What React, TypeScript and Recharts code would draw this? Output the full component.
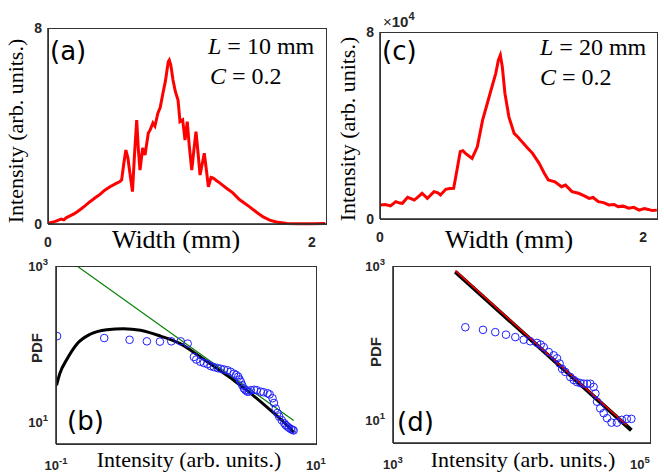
import React from 'react'
import { ComposedChart, Line, Scatter, XAxis, YAxis } from 'recharts'

// (a) L = 10 mm, C = 0.2 : intensity profile across the width
const widthA = [
  0.0, 0.04, 0.08, 0.1, 0.12, 0.14, 0.167, 0.2, 0.24, 0.28, 0.318, 0.36, 0.394, 0.43, 0.47, 0.51, 0.545,
  0.558, 0.575, 0.59, 0.605, 0.625, 0.64, 0.655, 0.672, 0.685, 0.697, 0.717, 0.735, 0.76, 0.775, 0.795,
  0.81, 0.833, 0.85, 0.871, 0.89, 0.911, 0.919, 0.93, 0.947, 0.965, 0.985, 1.0, 1.02, 1.038, 1.055, 1.07,
  1.089, 1.105, 1.121, 1.135, 1.152, 1.17, 1.184, 1.2, 1.215, 1.235, 1.252, 1.3, 1.35, 1.4, 1.45, 1.53,
  1.58, 1.63, 1.68, 1.73, 1.81, 1.9, 2.0, 2.1,
]
const intensityA = [
  0.03, 0.08, 0.16, 0.2, 0.17, 0.26, 0.33, 0.42, 0.57, 0.74, 0.91, 1.08, 1.21, 1.38, 1.52, 1.64, 1.73,
  1.8, 2.5, 3.02, 2.7, 1.9, 1.32, 2.8, 4.24, 3.0, 2.2, 3.1, 2.82, 3.71, 3.85, 4.12,
  4.0, 4.53, 4.75, 5.35, 5.85, 6.62, 6.69, 6.5, 5.88, 5.4, 5.06, 4.18, 4.25, 3.43, 4.18, 3.2,
  2.2, 3.0, 3.77, 3.0, 2.0, 2.5, 2.89, 2.2, 1.52, 1.9, 1.87, 1.68, 1.47, 1.27, 1.0, 0.69,
  0.48, 0.29, 0.16, 0.08, 0.02, 0.01, 0.01, 0.02,
]

// (c) L = 20 mm, C = 0.2 : intensity in units of 10^4
const widthC = [
  0.0, 0.04, 0.08, 0.12, 0.15, 0.17, 0.21, 0.24, 0.26, 0.29, 0.32, 0.36, 0.41, 0.44, 0.46, 0.5, 0.53,
  0.56, 0.585, 0.61, 0.63, 0.65, 0.7, 0.74, 0.78, 0.83, 0.88, 0.9, 0.915, 0.93, 0.95, 0.98, 1.02, 1.05,
  1.08, 1.12, 1.16, 1.21, 1.25, 1.28, 1.33, 1.38, 1.41, 1.46, 1.51, 1.55, 1.59, 1.62, 1.66, 1.7, 1.74,
  1.78, 1.81, 1.85, 1.89, 1.93, 1.97, 2.01, 2.04, 2.07, 2.105,
]
const intensityC = [
  0.6, 0.62, 0.56, 0.74, 0.68, 0.67, 0.93, 0.86, 0.81, 0.95, 1.1, 0.88, 1.17, 1.12, 1.03, 1.27, 1.3,
  1.31, 2.09, 2.88, 2.92, 2.81, 2.59, 3.09, 4.23, 5.23, 6.23, 6.79, 7.01, 6.51, 5.37, 4.37, 3.66, 3.5,
  3.3, 3.05, 2.81, 2.38, 1.95, 1.67, 1.59, 1.38, 1.45, 1.17, 1.1, 1.0, 0.88, 0.92, 0.74, 0.7, 0.6,
  0.62, 0.53, 0.55, 0.46, 0.5, 0.38, 0.45, 0.41, 0.36, 0.38,
]

// (b) PDF of intensity, L = 10 mm
const pdfXB = [
  0.102, 0.235, 0.368, 0.5, 0.63, 0.77, 0.91, 1.03, 1.15, 1.2, 1.29, 1.37, 1.46, 1.55, 1.64, 1.75, 1.85,
  1.96, 2.08, 2.2, 2.34, 2.43, 2.52, 2.58, 2.64, 2.71, 2.79, 2.87, 2.96, 3.05, 3.15, 3.34, 3.5, 3.76,
  3.95, 4.24, 4.4, 4.63, 4.75, 4.9, 5.05, 5.21, 5.45, 5.7, 5.85, 6.03, 6.2, 6.41, 6.6, 6.73,
]
const pdfYB = [
  126, 119, 113, 108, 107, 108, 108, 101, 68, 63, 59, 57, 55, 52, 50.4, 49, 48,
  47, 46, 44, 41.5, 40, 38, 35, 32.6, 29.5, 26.8, 25.5, 24.4, 24.5, 25.5, 25.8, 25.5, 24.4,
  24, 23.3, 22.5, 20.1, 17.5, 14.8, 13, 11.7, 10.5, 9.6, 9.1, 8.7, 8.4, 8.07, 7.9, 7.76,
]
const fitXB = [0.101, 0.107, 0.121, 0.145, 0.183, 0.246, 0.331, 0.446, 0.636, 0.908, 1.29, 1.74, 2.34, 3.16, 4.24, 5.69, 6.76]
const fitYB = [29.5, 41.7, 63, 100, 133, 152, 157, 150, 126, 100, 68, 48, 34, 23, 15.2, 9.8, 7.3]
const powerXB = [0.145, 6.73]
const powerYB = [1000, 10.4]

// (d) PDF of intensity, L = 20 mm
const pdfXD = [
  3656, 5016, 6250, 7570, 8950, 10400, 11700, 13200, 14100, 14900, 16300, 17800, 18900, 19800, 20700,
  21900, 24000, 25500, 27000, 28700, 30500, 32400, 34300, 36400, 37600, 38700, 41000, 43600, 46300,
  50200, 55300, 60400, 66000, 71600,
]
const pdfYD = [
  160, 148, 138, 128, 119, 110, 105, 100, 95, 88, 76, 69, 63, 54, 46,
  42, 36, 33, 31, 30, 29.5, 29.5, 29.5, 26.8, 22, 17.2, 14.1, 12.2, 10.5,
  9.2, 9.2, 10, 10.3, 10.3,
]
const fitXD = [3055, 71600]
const fitYD = [843, 7.3]
const powerXD = [3055, 66000]
const powerYD = [870, 8.5]

// labelled ticks
const profileTicksX = [0, 2]
const profileTicksY = [0, 8]
const pdfTicksY = [10, 1000]
const pdfTicksXB = [0.1, 10]
const pdfTicksXD = [1000, 100000]

const zip = (xs: number[], ys: number[]) => xs.map((x, i) => ({ x, y: ys[i] }))

const SERIF = '"Liberation Serif", "Times New Roman", serif'
const SANS = '"DejaVu Sans", Verdana, sans-serif'
const TICKF = '"Liberation Sans", Arial, sans-serif'
const INK = '#262626'

// plain bold tick label ("0", "2", "8")
const plainTick = (dx: number, dy: number, anchor: string) => (props: any) => {
  const { x, y, payload } = props
  return (
    <text x={x + dx} y={y + dy} textAnchor={anchor} fontFamily={TICKF} fontWeight="bold" fontSize={14} fill={INK}>
      {payload.value}
    </text>
  )
}

// 10^n tick label
const powTick = (dx: number, dy: number, anchor: string) => (props: any) => {
  const { x, y, payload } = props
  const exp = Math.round(Math.log10(payload.value))
  return (
    <text x={x + dx} y={y + dy} textAnchor={anchor} fontFamily={TICKF} fontWeight="bold" fontSize={13} fill={INK}>
      10
      <tspan dy={-6} fontSize={9.5}>{exp}</tspan>
    </text>
  )
}

const openCircle = (props: any) => (
  <circle cx={props.cx} cy={props.cy} r={3.8} fill="none" stroke="#1f1fff" strokeWidth={1} />
)

const PROFILE_X = [0, 2.106]
const PROFILE_Y = [0, 8]

function Profile({ data, margin }: { data: { x: number; y: number }[]; margin: any }) {
  return (
    <ComposedChart width={332} height={250} margin={margin}>
      <XAxis
        dataKey="x"
        type="number"
        domain={PROFILE_X}
        ticks={profileTicksX}
        allowDataOverflow
        axisLine={{ stroke: INK, strokeWidth: 1.5 }}
        tickLine={false}
        tickSize={0}
        height={26}
        tick={plainTick(0, 21, 'middle')}
      />
      <YAxis
        dataKey="y"
        type="number"
        domain={PROFILE_Y}
        ticks={profileTicksY}
        axisLine={{ stroke: INK, strokeWidth: 1.5 }}
        tickLine={false}
        tickSize={0}
        width={40}
        tick={plainTick(-4, 5, 'end')}
      />
      <Line data={data} dataKey="y" type="linear" stroke="#ff0000" strokeWidth={3} dot={false} isAnimationActive={false} />
    </ComposedChart>
  )
}

function Pdf({ points, fit, power, domainX, domainY, margin, yWidth, fitWidth, powerColor, powerWidth }: any) {
  return (
    <ComposedChart width={332} height={224} margin={margin}>
      <XAxis
        dataKey="x"
        type="number"
        scale="log"
        domain={domainX}
        ticks={domainX}
        allowDataOverflow
        axisLine={{ stroke: INK, strokeWidth: 1.5 }}
        tickLine={false}
        tickSize={0}
        height={26}
        tick={powTick(0, 24, 'middle')}
      />
      <YAxis
        dataKey="y"
        type="number"
        scale="log"
        domain={domainY}
        ticks={pdfTicksY}
        allowDataOverflow
        axisLine={{ stroke: INK, strokeWidth: 1.5 }}
        tickLine={false}
        tickSize={0}
        width={yWidth}
        tick={powTick(-6, 5, 'end')}
      />
      <Scatter data={points} dataKey="y" shape={openCircle} isAnimationActive={false} />
      <Line data={fit} dataKey="y" type="monotone" stroke="#000000" strokeWidth={fitWidth} dot={false} isAnimationActive={false} />
      <Line data={power} dataKey="y" type="linear" stroke={powerColor} strokeWidth={powerWidth} dot={false} isAnimationActive={false} />
    </ComposedChart>
  )
}

// plot boxes of the four panels: [left, top, right, bottom] in page pixels
const frames = [
  [48, 28, 326, 224],
  [380, 32, 657, 219],
  [56, 266, 316, 444],
  [393, 266, 650, 443],
]

function Frames() {
  return (
    <>
      {frames.map(([l, t, r, b], i) => (
        <div
          key={i}
          style={{
            position: 'absolute',
            left: l,
            top: t,
            width: r - l + 1,
            height: b - t + 1,
            boxSizing: 'border-box',
            border: '1px solid #333333',
            pointerEvents: 'none',
          }}
        />
      ))}
    </>
  )
}

function Overlay() {
  const lab = { fontFamily: SERIF, fontSize: 22, fill: '#000' }
  const note = { fontFamily: SERIF, fontSize: 24, fill: '#000' }
  const wide = { fontFamily: SERIF, fontSize: 26, fill: '#000' }
  const letter = { fontFamily: SANS, fontSize: 26, fill: '#000' }
  return (
    <svg width={664} height={474} style={{ position: 'absolute', left: 0, top: 0, pointerEvents: 'none' }}>
      {/* panel letters and parameters */}
      <text x={50} y={60} {...letter}>(a)</text>
      <text x={208} y={54} {...note}>
        <tspan fontStyle="italic">L</tspan> = 10 mm
      </text>
      <text x={210} y={84} {...note}>
        <tspan fontStyle="italic">C</tspan> = 0.2
      </text>
      <text x={382} y={60} {...letter}>(c)</text>
      <text x={540} y={55} {...note}>
        <tspan fontStyle="italic">L</tspan> = 20 mm
      </text>
      <text x={540} y={85} {...note}>
        <tspan fontStyle="italic">C</tspan> = 0.2
      </text>
      <text x={67} y={430} {...letter}>(b)</text>
      <text x={397} y={431} {...letter}>(d)</text>
      <text x={383} y={27} fontFamily={TICKF} fontSize={15} fill={INK}>
        ×<tspan fontWeight="bold">10</tspan>
        <tspan fontWeight="bold" dy={-7} fontSize={11}>4</tspan>
      </text>

      {/* axis titles */}
      <text x={176} y={248} textAnchor="middle" {...wide}>Width (mm)</text>
      <text x={509} y={248} textAnchor="middle" {...wide}>Width (mm)</text>
      <text x={189} y={467} textAnchor="middle" {...lab}>Intensity (arb. units.)</text>
      <text x={523} y={467} textAnchor="middle" {...lab}>Intensity (arb. units.)</text>
      <text transform="translate(18,131) rotate(-90)" textAnchor="middle" dominantBaseline="middle" {...lab}>
        Intensity (arb. units.)
      </text>
      <text transform="translate(350,129) rotate(-90)" textAnchor="middle" dominantBaseline="middle" {...lab}>
        Intensity (arb. units.)
      </text>
      <text transform="translate(38,348) rotate(-90)" textAnchor="middle" dominantBaseline="middle" fontFamily={TICKF} fontWeight="bold" fontSize={15} fill={INK}>
        PDF
      </text>
      <text transform="translate(377,352) rotate(-90)" textAnchor="middle" dominantBaseline="middle" fontFamily={TICKF} fontWeight="bold" fontSize={15} fill={INK}>
        PDF
      </text>
    </svg>
  )
}

export default function App() {
  return (
    <div style={{ position: 'absolute', left: 0, top: 0, width: 664, height: 474, background: '#fff' }}>
      <div style={{ display: 'flex', flexWrap: 'wrap', width: 664 }}>
        <Profile data={zip(widthA, intensityA)} margin={{ top: 28, right: 6, left: 8, bottom: 0 }} />
        <Profile data={zip(widthC, intensityC)} margin={{ top: 32, right: 7, left: 8, bottom: 5 }} />
        <Pdf
          points={zip(pdfXB, pdfYB)}
          fit={zip(fitXB, fitYB)}
          power={zip(powerXB, powerYB)}
          domainX={pdfTicksXB}
          domainY={[5.2, 1000]}
          margin={{ top: 16, right: 16, left: 8, bottom: 4 }}
          yWidth={48}
          fitWidth={3}
          powerColor="#0a800a"
          powerWidth={1.2}
        />
        <Pdf
          points={zip(pdfXD, pdfYD)}
          fit={zip(fitXD, fitYD)}
          power={zip(powerXD, powerYD)}
          domainX={pdfTicksXD}
          domainY={[5, 1000]}
          margin={{ top: 16, right: 14, left: 8, bottom: 5 }}
          yWidth={53}
          fitWidth={4}
          powerColor="#ff0000"
          powerWidth={1.5}
        />
      </div>
      <Frames />
      <Overlay />
    </div>
  )
}
